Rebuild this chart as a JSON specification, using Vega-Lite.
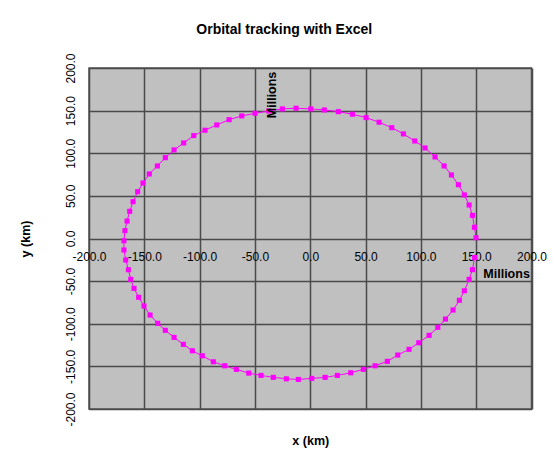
{
  "$schema": "https://vega.github.io/schema/vega-lite/v6.json",
  "description": "Orbital tracking with Excel: x/y position of an orbit, in millions of km.",
  "width": 442.5,
  "height": 341,
  "autosize": {"type": "none"},
  "padding": {"left": 89, "top": 68, "right": 21.5, "bottom": 47},
  "background": "white",
  "title": {
    "text": "Orbital tracking with Excel",
    "font": "Liberation Sans",
    "fontSize": 14,
    "fontWeight": "bold",
    "color": "black",
    "anchor": "middle",
    "dx": -26,
    "offset": 16
  },
  "config": {
    "view": {"fill": "#C0C0C0", "stroke": "#555555", "strokeWidth": 1.5},
    "axis": {
      "labelFont": "Liberation Sans",
      "labelFontSize": 12,
      "labelColor": "black",
      "titleFont": "Liberation Sans",
      "titleFontSize": 12.5,
      "titleFontWeight": "bold",
      "titleColor": "black",
      "grid": true,
      "gridColor": "#4a4a4a",
      "gridWidth": 1.5,
      "gridOpacity": 1,
      "ticks": false,
      "domain": false,
      "labelOverlap": false,
      "labelBound": false,
      "labelFlush": false
    }
  },
  "data": {
    "values": [
      {"i": 1, "x": 149.9, "y": 0.9},
      {"i": 2, "x": 148.4, "y": 13.1},
      {"i": 3, "x": 146.6, "y": 27.2},
      {"i": 4, "x": 143.6, "y": 39.3},
      {"i": 5, "x": 139.3, "y": 51.1},
      {"i": 6, "x": 133.9, "y": 63.1},
      {"i": 7, "x": 127.6, "y": 74.5},
      {"i": 8, "x": 121.0, "y": 85.1},
      {"i": 9, "x": 112.8, "y": 95.7},
      {"i": 10, "x": 103.8, "y": 106.2},
      {"i": 11, "x": 94.5, "y": 114.4},
      {"i": 12, "x": 84.2, "y": 122.7},
      {"i": 13, "x": 73.7, "y": 130.0},
      {"i": 14, "x": 62.2, "y": 136.4},
      {"i": 15, "x": 50.5, "y": 141.8},
      {"i": 16, "x": 38.1, "y": 145.8},
      {"i": 17, "x": 25.4, "y": 148.8},
      {"i": 18, "x": 12.7, "y": 150.8},
      {"i": 19, "x": 0.5, "y": 152.0},
      {"i": 20, "x": -12.8, "y": 152.8},
      {"i": 21, "x": -25.2, "y": 152.0},
      {"i": 22, "x": -37.5, "y": 149.6},
      {"i": 23, "x": -49.9, "y": 146.9},
      {"i": 24, "x": -61.9, "y": 143.8},
      {"i": 25, "x": -73.4, "y": 139.4},
      {"i": 26, "x": -84.5, "y": 133.2},
      {"i": 27, "x": -95.1, "y": 127.0},
      {"i": 28, "x": -105.3, "y": 120.7},
      {"i": 29, "x": -114.4, "y": 112.1},
      {"i": 30, "x": -123.1, "y": 103.9},
      {"i": 31, "x": -131.0, "y": 94.8},
      {"i": 32, "x": -138.2, "y": 85.1},
      {"i": 33, "x": -145.5, "y": 75.7},
      {"i": 34, "x": -151.2, "y": 65.1},
      {"i": 35, "x": -156.0, "y": 54.9},
      {"i": 36, "x": -160.2, "y": 43.2},
      {"i": 37, "x": -163.2, "y": 31.9},
      {"i": 38, "x": -165.6, "y": 20.5},
      {"i": 39, "x": -167.5, "y": 9.2},
      {"i": 40, "x": -168.4, "y": -2.6},
      {"i": 41, "x": -168.4, "y": -13.5},
      {"i": 42, "x": -166.8, "y": -25.2},
      {"i": 43, "x": -164.4, "y": -36.6},
      {"i": 44, "x": -162.3, "y": -47.9},
      {"i": 45, "x": -159.3, "y": -58.5},
      {"i": 46, "x": -155.1, "y": -69.0},
      {"i": 47, "x": -150.3, "y": -79.2},
      {"i": 48, "x": -144.8, "y": -89.8},
      {"i": 49, "x": -137.9, "y": -99.5},
      {"i": 50, "x": -131.0, "y": -107.7},
      {"i": 51, "x": -123.1, "y": -116.0},
      {"i": 52, "x": -114.7, "y": -124.2},
      {"i": 53, "x": -106.6, "y": -131.7},
      {"i": 54, "x": -97.6, "y": -137.6},
      {"i": 55, "x": -87.6, "y": -144.6},
      {"i": 56, "x": -77.3, "y": -149.3},
      {"i": 57, "x": -66.8, "y": -153.5},
      {"i": 58, "x": -55.6, "y": -157.9},
      {"i": 59, "x": -44.5, "y": -160.6},
      {"i": 60, "x": -33.4, "y": -162.9},
      {"i": 61, "x": -21.6, "y": -164.6},
      {"i": 62, "x": -10.8, "y": -165.3},
      {"i": 63, "x": 1.4, "y": -164.1},
      {"i": 64, "x": 13.4, "y": -162.9},
      {"i": 65, "x": 24.5, "y": -160.6},
      {"i": 66, "x": 36.6, "y": -157.5},
      {"i": 67, "x": 48.0, "y": -153.5},
      {"i": 68, "x": 58.6, "y": -149.3},
      {"i": 69, "x": 69.7, "y": -144.1},
      {"i": 70, "x": 79.1, "y": -136.7},
      {"i": 71, "x": 89.3, "y": -130.0},
      {"i": 72, "x": 98.1, "y": -122.3},
      {"i": 73, "x": 107.4, "y": -113.6},
      {"i": 74, "x": 115.3, "y": -104.2},
      {"i": 75, "x": 122.2, "y": -94.5},
      {"i": 76, "x": 129.1, "y": -83.9},
      {"i": 77, "x": 134.8, "y": -72.5},
      {"i": 78, "x": 139.3, "y": -61.3},
      {"i": 79, "x": 143.6, "y": -47.9},
      {"i": 80, "x": 146.6, "y": -36.6},
      {"i": 81, "x": 148.6, "y": -22.3}
    ]
  },
  "layer": [
    {
      "mark": {"type": "line", "color": "#FF00FF", "strokeWidth": 1},
      "encoding": {
        "x": {
          "field": "x",
          "type": "quantitative",
          "scale": {"domain": [-200, 200], "nice": false, "zero": false},
          "axis": {
            "orient": "bottom",
            "offset": -170.5,
            "values": [-200, -150, -100, -50, 0, 50, 100, 150, 200],
            "labelExpr": "toString(datum.value) + '.0'",
            "labelPadding": 18,
            "labelBaseline": "middle",
            "labelAlign": "center",
            "title": "x (km)",
            "titleX": 221.25,
            "titleY": 201.5,
            "titleAlign": "center",
            "titleBaseline": "middle"
          }
        },
        "y": {
          "field": "y",
          "type": "quantitative",
          "scale": {"domain": [-200, 200], "nice": false, "zero": false},
          "axis": {
            "orient": "left",
            "values": [-200, -150, -100, -50, 0, 50, 100, 150, 200],
            "labelExpr": "toString(datum.value) + '.0'",
            "labelAngle": 270,
            "labelAlign": "center",
            "labelBaseline": "middle",
            "labelPadding": 19,
            "title": "y (km)",
            "titleX": -64,
            "titleY": 170.5,
            "titleAngle": 270,
            "titleAlign": "center",
            "titleBaseline": "middle"
          }
        },
        "order": {"field": "i", "type": "quantitative"}
      }
    },
    {
      "mark": {"type": "square", "filled": true, "size": 26, "color": "#FF00FF", "opacity": 1},
      "encoding": {
        "x": {"field": "x", "type": "quantitative"},
        "y": {"field": "y", "type": "quantitative"}
      }
    },
    {
      "data": {"values": [{"label": "Millions"}]},
      "mark": {
        "type": "text",
        "font": "Liberation Sans",
        "fontSize": 12.5,
        "fontWeight": "bold",
        "color": "black",
        "align": "right",
        "baseline": "middle"
      },
      "encoding": {
        "x": {"datum": 198.5, "type": "quantitative"},
        "y": {"datum": -41.7, "type": "quantitative"},
        "text": {"field": "label"}
      }
    },
    {
      "data": {"values": [{"label": "Millions"}]},
      "mark": {
        "type": "text",
        "font": "Liberation Sans",
        "fontSize": 12.5,
        "fontWeight": "bold",
        "color": "black",
        "align": "center",
        "baseline": "middle",
        "angle": 270
      },
      "encoding": {
        "x": {"datum": -34.5, "type": "quantitative"},
        "y": {"datum": 168.4, "type": "quantitative"},
        "text": {"field": "label"}
      }
    }
  ]
}
